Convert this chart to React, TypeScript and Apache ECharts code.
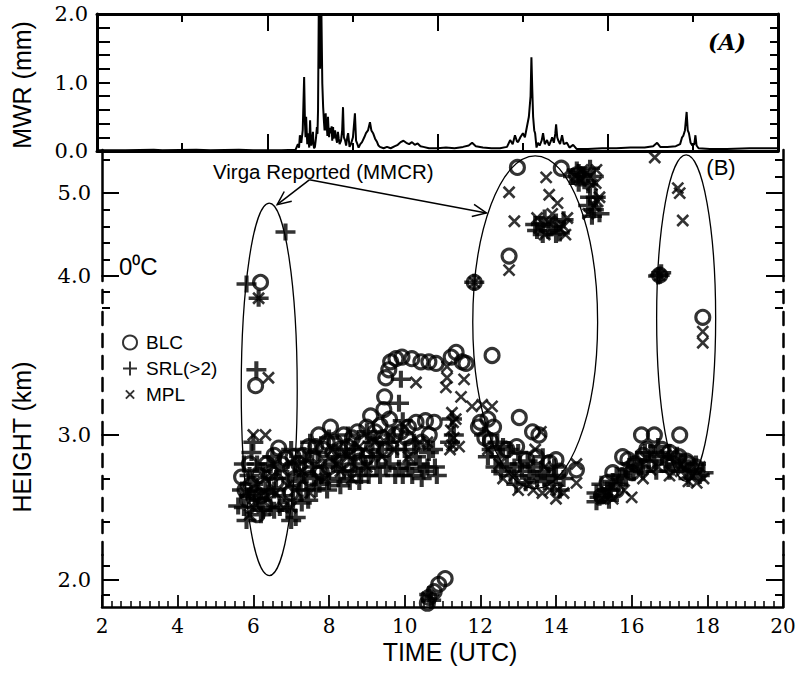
import { useEffect, useRef } from "react";
import * as echarts from "echarts";

// ---------- DATA ----------
// MWR liquid water path (mm) vs time (UTC hours, top panel spans 0-24)
const mwrData: [number, number][] = [
  [0, 0.01], [1, 0.01], [2, 0.02], [2.3, 0.01], [3.5, 0.02], [4.0, 0.01], [5, 0.02], [5.5, 0.01], [6.5, 0.01],
  [7.0, 0.02], [7.08, 0.1], [7.12, 0.05], [7.15, 0.23], [7.2, 0.12], [7.25, 0.3], [7.3, 1.08], [7.33, 0.4],
  [7.35, 0.2], [7.37, 0.5], [7.39, 0.3], [7.41, 0.1], [7.44, 0.26], [7.46, 0.12], [7.48, 0.05], [7.51, 0.45],
  [7.53, 0.2], [7.55, 0.08], [7.58, 0.16], [7.61, 0.28], [7.63, 0.1], [7.65, 0.04], [7.68, 0.06], [7.72, 0.2],
  [7.75, 0.35], [7.77, 0.25], [7.79, 0.6], [7.82, 2.3], [7.86, 1.2], [7.9, 2.3],
  [7.94, 0.99], [7.97, 0.64], [8.0, 0.42], [8.02, 0.3], [8.04, 0.48], [8.06, 0.55], [8.08, 0.3], [8.1, 0.35],
  [8.12, 0.22], [8.14, 0.5], [8.16, 0.32], [8.18, 0.2], [8.2, 0.34], [8.22, 0.3], [8.25, 0.26], [8.27, 0.36],
  [8.29, 0.15], [8.32, 0.35], [8.34, 0.18], [8.36, 0.22], [8.39, 0.3], [8.42, 0.2], [8.46, 0.12], [8.49, 0.28],
  [8.52, 0.18], [8.55, 0.1], [8.6, 0.15], [8.64, 0.3], [8.67, 0.64], [8.7, 0.2], [8.74, 0.16], [8.78, 0.08],
  [8.82, 0.2], [8.85, 0.26], [8.9, 0.06],
  [8.95, 0.1], [9.02, 0.2], [9.09, 0.55], [9.13, 0.15], [9.16, 0.12], [9.22, 0.05], [9.28, 0.1], [9.34, 0.13],
  [9.42, 0.2], [9.48, 0.26], [9.55, 0.3], [9.62, 0.42], [9.67, 0.3], [9.73, 0.26], [9.8, 0.18], [9.87, 0.13],
  [9.92, 0.08], [9.97, 0.06], [10.1, 0.04], [10.22, 0.06], [10.35, 0.04], [10.5, 0.07], [10.6, 0.09], [10.7, 0.13],
  [10.8, 0.15], [10.9, 0.12], [11.0, 0.1], [11.1, 0.13], [11.2, 0.09], [11.3, 0.11], [11.4, 0.07], [11.5, 0.06],
  [11.7, 0.04], [12.0, 0.04], [12.3, 0.05], [12.6, 0.04], [12.9, 0.06], [13.1, 0.08], [13.22, 0.12], [13.35, 0.07],
  [13.6, 0.05], [13.9, 0.04], [14.2, 0.04], [14.45, 0.06], [14.56, 0.16], [14.65, 0.1], [14.73, 0.23], [14.8, 0.14],
  [14.84, 0.13], [14.92, 0.2], [15.01, 0.26], [15.08, 0.2], [15.15, 0.35], [15.22, 0.5], [15.28, 0.8], [15.31, 1.37],
  [15.34, 0.9], [15.37, 0.5], [15.41, 0.3], [15.44, 0.26], [15.49, 0.05], [15.54, 0.12], [15.6, 0.08], [15.67, 0.15],
  [15.72, 0.26], [15.78, 0.1], [15.86, 0.16], [15.93, 0.08], [16.0, 0.15], [16.04, 0.2], [16.1, 0.12], [16.15, 0.25],
  [16.18, 0.39], [16.22, 0.2], [16.25, 0.16], [16.32, 0.1], [16.39, 0.23], [16.45, 0.1], [16.56, 0.12], [16.65, 0.05],
  [16.78, 0.09], [16.9, 0.03], [17.3, 0.03], [17.8, 0.04], [18.3, 0.04], [18.8, 0.05], [19.3, 0.05], [19.6, 0.07],
  [19.74, 0.12], [19.85, 0.06], [20.1, 0.06], [20.4, 0.07], [20.55, 0.1], [20.62, 0.2], [20.66, 0.22], [20.72, 0.3],
  [20.78, 0.57], [20.82, 0.3], [20.86, 0.26], [20.92, 0.12], [20.98, 0.08], [21.05, 0.1], [21.09, 0.23], [21.13, 0.08],
  [21.2, 0.04], [21.6, 0.03], [22.2, 0.03], [23, 0.04], [24, 0.04],
];

// Cloud base heights (km) vs time (UTC hours)
const blcData: [number, number][] = [
  [6.19, 3.96], [6.06, 3.31],
  [5.69, 2.71], [5.78, 2.62], [5.85, 2.55], [5.95, 2.66], [6.05, 2.6], [6.1, 2.45], [6.15, 2.72], [6.25, 2.66],
  [6.3, 2.52], [6.35, 2.8], [6.45, 2.74], [6.5, 2.55], [6.55, 2.86], [6.67, 2.91], [6.75, 2.8], [6.85, 2.84],
  [6.98, 2.77], [7.0, 2.6], [7.1, 2.7], [7.2, 2.8], [7.32, 2.86], [7.46, 2.92], [7.5, 2.7], [7.58, 2.85],
  [7.73, 3.0], [7.8, 2.74], [7.85, 2.9], [7.95, 2.95], [8.0, 2.78], [8.04, 3.05], [8.15, 2.95], [8.28, 2.9],
  [8.39, 3.0], [8.5, 2.92], [8.5, 2.8], [8.62, 2.98], [8.75, 3.02], [8.8, 2.82], [8.88, 2.95], [9.0, 3.05],
  [9.0, 2.85], [9.1, 3.12], [9.22, 3.02], [9.35, 3.06], [9.5, 2.9],
  [5.9, 2.8], [6.2, 2.58], [6.6, 2.68], [7.05, 2.85], [7.4, 2.78], [7.65, 2.92], [8.1, 2.88], [8.35, 2.82],
  [8.7, 2.88], [9.15, 2.92], [9.4, 2.98], [9.75, 3.0], [10.1, 3.05], [10.65, 3.0],
  [9.45, 3.16], [9.47, 3.24], [9.5, 3.36], [9.58, 3.41], [9.63, 3.46], [9.77, 3.48], [9.93, 3.49], [10.19, 3.48],
  [10.43, 3.46], [10.64, 3.46], [10.83, 3.45], [11.23, 3.49], [11.36, 3.52], [11.52, 3.46], [11.62, 3.45],
  [9.6, 3.1], [9.9, 3.02], [10.05, 2.98], [10.2, 2.92], [10.3, 3.08], [10.45, 2.95], [10.55, 3.09], [10.78, 3.08],
  [10.6, 1.84], [10.64, 1.88], [10.78, 1.92], [10.9, 1.97], [11.07, 2.01],
  [11.84, 3.96], [12.31, 3.5], [12.76, 4.24], [12.98, 5.31], [14.14, 5.3], [14.54, 5.22],
  [11.95, 3.05], [12.0, 3.08], [12.12, 2.98], [12.2, 3.1], [12.27, 2.96], [12.35, 3.05], [13.03, 3.11],
  [13.38, 3.02], [13.55, 3.0],
  [12.7, 2.9], [12.96, 2.92], [13.22, 2.83], [13.48, 2.85], [13.83, 2.81], [14.0, 2.83], [14.1, 2.75], [14.54, 2.76],
  [15.35, 2.67], [15.5, 2.74], [15.6, 2.62], [15.76, 2.85], [15.9, 2.83], [16.1, 2.8], [16.3, 2.86],
  [15.2, 2.58], [15.45, 2.6], [16.0, 2.74], [16.4, 2.9],
  [16.26, 3.0], [16.6, 3.0], [17.27, 3.0],
  [16.74, 4.01], [17.88, 3.74],
  [16.8, 2.9], [17.0, 2.88], [17.1, 2.8], [17.25, 2.85], [17.45, 2.82], [17.5, 2.8], [17.7, 2.78],
];

const srlData: [number, number][] = [
  [5.82, 3.95], [6.14, 3.86], [6.85, 4.53], [6.08, 3.41],
  [5.6, 2.51], [5.82, 2.41], [5.7, 2.62], [5.95, 2.88], [5.9, 2.72], [6.0, 2.95], [6.05, 2.56], [6.2, 2.45],
  [6.32, 2.62], [6.45, 2.5], [6.5, 2.85], [6.6, 2.7], [6.8, 2.58], [7.0, 2.41], [7.0, 2.9], [7.12, 2.43],
  [7.2, 2.68], [7.28, 2.53], [7.4, 2.62], [7.5, 2.95], [7.55, 2.78], [7.65, 2.63], [7.8, 2.72], [8.0, 2.68],
  [8.0, 2.98], [8.1, 2.8], [8.25, 2.7], [8.4, 2.75], [8.5, 3.0], [8.55, 2.68], [8.7, 2.8], [8.85, 2.72],
  [8.97, 2.77], [9.0, 3.02], [9.1, 2.85], [9.25, 2.78], [9.4, 2.9], [9.6, 2.8], [9.7, 3.0], [9.85, 2.77],
  [9.85, 3.2], [9.9, 3.35], [9.95, 3.09], [10.0, 2.9], [10.1, 2.77], [10.3, 2.85], [10.5, 2.75], [10.64, 2.88],
  [10.8, 2.78],
  [5.75, 2.5], [5.75, 2.8], [5.88, 2.58], [6.0, 2.66], [6.1, 2.8], [6.15, 2.55], [6.25, 2.48], [6.25, 2.75],
  [6.4, 2.6], [6.4, 2.8], [6.55, 2.48], [6.55, 2.62], [6.7, 2.5], [6.7, 2.78], [6.9, 2.48], [6.9, 2.7],
  [7.05, 2.55], [7.1, 2.8], [7.25, 2.62], [7.35, 2.72], [7.35, 2.85], [7.45, 2.55], [7.6, 2.7], [7.7, 2.88],
  [7.75, 2.66], [7.9, 2.78], [7.95, 2.62], [8.2, 2.85], [8.3, 2.65], [8.45, 2.9], [8.6, 2.75], [8.65, 2.9],
  [8.8, 2.68], [8.9, 2.85], [9.05, 2.72], [9.15, 2.95], [9.3, 2.85], [9.35, 2.72], [9.5, 2.78], [9.55, 2.95],
  [9.75, 2.72], [9.8, 2.9], [9.95, 2.72], [10.05, 2.8], [10.2, 2.72], [10.25, 2.95], [10.4, 2.8], [10.45, 2.7],
  [10.6, 2.78], [10.75, 2.9], [10.85, 2.72],
  [10.65, 1.9], [10.7, 1.86],
  [11.84, 3.96], [11.2, 2.95], [11.25, 3.1], [11.3, 3.0],
  [12.1, 3.0], [12.3, 2.9], [12.4, 2.78], [12.5, 2.85], [12.6, 2.92], [12.7, 2.8], [12.8, 2.72], [12.9, 2.78],
  [13.0, 2.88], [13.1, 2.75], [13.2, 2.67], [13.3, 2.72], [13.5, 2.7], [13.7, 2.68], [13.9, 2.66], [14.0, 2.72],
  [12.2, 2.85], [12.45, 2.95], [12.55, 2.75], [12.75, 2.9], [12.95, 2.66], [13.05, 2.8], [13.25, 2.82],
  [13.4, 2.78], [13.6, 2.75], [13.65, 2.85], [13.8, 2.72], [14.1, 2.62], [14.2, 2.7], [13.95, 2.78],
  [13.5, 4.55], [13.6, 4.62], [13.8, 4.55], [14.0, 4.65], [14.1, 4.52], [14.6, 5.25], [14.75, 5.15], [14.9, 5.3],
  [14.9, 4.95], [15.0, 4.8],
  [13.45, 4.62], [13.7, 4.7], [13.9, 4.6], [14.2, 4.68], [13.65, 4.5], [14.0, 4.5],
  [14.45, 5.2], [14.55, 5.28], [14.7, 5.22], [14.85, 5.1], [15.0, 5.2], [14.6, 5.12],
  [14.85, 4.85], [15.05, 4.95], [15.15, 4.75], [14.95, 4.72],
  [15.07, 2.6], [15.07, 2.54], [15.2, 2.66], [15.25, 2.58], [15.4, 2.55], [15.45, 2.62], [15.6, 2.72],
  [15.65, 2.66], [15.85, 2.7], [16.0, 2.8], [16.05, 2.74], [16.25, 2.78], [16.35, 2.88], [16.45, 2.82],
  [15.15, 2.57], [15.35, 2.62], [15.5, 2.68], [15.75, 2.72], [15.9, 2.76], [16.15, 2.83], [16.3, 2.75], [16.5, 2.88],
  [16.6, 2.82], [16.7, 2.92], [16.74, 4.01], [16.7, 4.0], [16.78, 4.04], [16.8, 2.85], [17.0, 2.88], [17.0, 2.75],
  [17.2, 2.86], [17.4, 2.8], [17.5, 2.7], [17.6, 2.76], [17.8, 2.72],
  [16.9, 2.8], [17.1, 2.78], [17.3, 2.82], [17.45, 2.75], [17.7, 2.8], [17.9, 2.74], [16.65, 2.75],
];

const mplData: [number, number][] = [
  [6.14, 3.86], [6.4, 3.36], [6.0, 3.0], [6.32, 3.0],
  [5.8, 2.6], [6.0, 2.5], [6.3, 2.7], [6.6, 2.6], [6.9, 2.65], [7.0, 2.5], [7.3, 2.75], [7.7, 2.8], [8.1, 2.9],
  [8.3, 2.75], [8.5, 2.85], [8.8, 2.92], [9.2, 2.95], [9.4, 2.85], [9.6, 3.0], [10.0, 3.05], [10.4, 2.95],
  [5.9, 2.45], [6.2, 2.58], [6.5, 2.72], [6.8, 2.5], [7.1, 2.62], [7.5, 2.6], [7.9, 2.7], [8.2, 2.8],
  [8.6, 2.7], [9.0, 2.78], [9.3, 3.0], [9.7, 2.9], [10.1, 2.85], [10.6, 2.95],
  [10.6, 1.88],
  [10.3, 3.33], [11.09, 3.3], [11.12, 3.43], [11.12, 3.36], [11.57, 3.35], [11.49, 3.24], [11.78, 3.18],
  [12.05, 3.19], [12.31, 3.18],
  [11.2, 2.9], [11.22, 3.03], [11.25, 3.14], [11.25, 2.93], [11.28, 3.08], [11.3, 2.98], [11.35, 3.1], [11.44, 2.92],
  [11.84, 3.96], [12.76, 5.01], [12.9, 4.66], [12.76, 4.07], [13.74, 5.19], [13.82, 4.98], [14.04, 4.88],
  [14.3, 4.7], [15.07, 5.28], [13.5, 4.7], [13.7, 4.5], [13.9, 4.75], [14.2, 4.6], [14.5, 5.2], [14.7, 5.28],
  [14.95, 5.1], [15.1, 4.9], [14.85, 4.75],
  [13.55, 4.58], [13.8, 4.65], [14.1, 4.58], [14.25, 4.5], [14.65, 5.15], [14.8, 5.25], [15.05, 5.12],
  [15.0, 4.85], [15.15, 4.95],
  [12.5, 2.8], [12.9, 2.72], [13.3, 2.66], [13.4, 2.62], [13.6, 3.02], [13.64, 2.6], [13.85, 2.62], [14.05, 2.62],
  [12.2, 2.9], [12.6, 2.7], [13.0, 2.62], [13.45, 2.9], [13.7, 2.78], [14.2, 2.6], [14.0, 2.56],
  [14.54, 2.8], [14.54, 2.67],
  [15.2, 2.56], [15.5, 2.56], [15.8, 2.62], [16.0, 2.57], [16.3, 2.7], [16.5, 2.76],
  [16.61, 5.43], [17.22, 5.06], [17.27, 5.0], [17.35, 4.67], [16.74, 4.01], [17.88, 3.65], [17.88, 3.58],
  [16.7, 2.78], [17.0, 2.72], [17.3, 2.75], [17.5, 2.68], [17.72, 2.67], [17.9, 2.7],
  [16.9, 2.86], [17.6, 2.72], [17.8, 2.78],
];

// Height axis segments (the printed axis is not uniform, so each piece is its own linear axis)
const segMin = [4.0, 3.0, 2.172, 1.814];
const segMax = [5.52, 4.0, 3.0, 2.172];
const segMajorLeft = [[4, 5], [3], [], [2]];
const segMinorLeft = [[4.2, 4.4, 4.6, 4.8, 5.4], [3.8, 3.9], [2.4, 2.7], [1.9, 2.1]];
const segMinorRight = [[4.2, 4.4, 4.6, 4.8, 5.2, 5.4], [3.8, 3.9], [2.4, 2.7], [1.9, 2.1]];
const segLabels = [[4, 5], [3], [], [2]];

// Annotations (data coordinates: hours, km)
const virgaEllipses = [
  { x0: 5.68, x1: 7.16, yTop: 4.88, yBottom: 2.03 },
  { x0: 11.8, x1: 15.1, yTop: 5.45, yBottom: 2.63 },
  { x0: 16.66, x1: 18.22, yTop: 5.46, yBottom: 2.68 },
];
const arrowStart: [number, number] = [7.48, 5.16];
const arrowEnds: [number, number][] = [[6.63, 4.86], [12.16, 4.76]];

// ---------- LAYOUT / STYLE ----------
const SANS = "'Liberation Sans', Arial, Helvetica, sans-serif";
const SERIF = "'DejaVu Serif', 'Liberation Serif', serif";
const segTop = [150, 276, 435, 555];
const segHeight = [126, 159, 120, 52];
const segDashed = [false, true, true, false];
const PLUS = "path://M10,0L10,20M0,10L20,10";
const CROSS = "path://M0,0L20,20M20,0L0,20";
const CROSS_ICON = "path://M-7,-7M0,0L20,20M20,0L0,20M27,27";

function segIndex(km: number): number {
  for (let i = 0; i < segMin.length; i++) {
    if (km >= segMin[i] && km <= segMax[i]) return i;
  }
  return km > segMax[0] ? 0 : segMin.length - 1;
}

function buildOption(): any {
  const grids: any[] = [{ left: 97, top: 14, width: 681, height: 137, outerBoundsMode: "none" }];
  segTop.forEach((t, i) => grids.push({ left: 102, top: t, width: 681, height: segHeight[i], outerBoundsMode: "none" }));

  const black = "#000";
  const topX = (pos: string) => ({
    type: "value", gridIndex: 0, position: pos, min: 0, max: 24, interval: 6,
    axisLine: { show: true, onZero: false, lineStyle: { color: black, width: 3 } },
    axisTick: { show: true, inside: true, length: 17, lineStyle: { color: black, width: 2 } },
    minorTick: { show: true, splitNumber: 2, length: 8, lineStyle: { color: black, width: 2 } },
    axisLabel: { show: false }, splitLine: { show: false }, minorSplitLine: { show: false },
  });
  const xAxes: any[] = [topX("bottom"), topX("top")];
  segTop.forEach((_, i) => {
    const last = i === segTop.length - 1;
    xAxes.push({
      type: "value", gridIndex: i + 1, min: 2, max: 20, interval: 2, show: last, position: "bottom",
      axisLine: { show: true, onZero: false, lineStyle: { color: black, width: 2.5 } },
      axisTick: { show: true, inside: true, length: 12, lineStyle: { color: black, width: 1.8 } },
      minorTick: { show: true, splitNumber: 8, length: 6, lineStyle: { color: black, width: 1.5 } },
      axisLabel: { show: true, fontFamily: SERIF, fontSize: 20, color: black, margin: 9 },
      splitLine: { show: false }, minorSplitLine: { show: false },
    });
  });

  const topY = (pos: string, len: number, labels: boolean) => ({
    type: "value", gridIndex: 0, position: pos, min: 0, max: 2, interval: 1,
    axisLine: { show: true, onZero: false, lineStyle: { color: black, width: 3 } },
    axisTick: { show: true, inside: true, length: len, lineStyle: { color: black, width: 2 } },
    minorTick: { show: true, splitNumber: 5, length: len, lineStyle: { color: black, width: 2 } },
    axisLabel: { show: labels, formatter: (v: number) => v.toFixed(1), fontFamily: SERIF, fontSize: 21, color: black, margin: 9 },
    splitLine: { show: false }, minorSplitLine: { show: false },
  });
  const yAxes: any[] = [topY("left", 13, true), topY("right", 8, false)];
  segTop.forEach((_, i) => {
    const base = { type: "value", gridIndex: i + 1, min: segMin[i], max: segMax[i], splitLine: { show: false }, minorTick: { show: false } };
    const lineStyle = { color: black, width: 2.5, type: segDashed[i] ? [13, 9] : "solid" };
    const major = (pos: string, labels: boolean) => ({
      ...base, position: pos,
      axisLine: { show: true, onZero: false, lineStyle },
      axisTick: { show: segMajorLeft[i].length > 0, inside: true, length: 17, customValues: segMajorLeft[i], lineStyle: { color: black, width: 2 } },
      axisLabel: {
        show: labels && segLabels[i].length > 0, customValues: segLabels[i], formatter: (v: number) => v.toFixed(1),
        fontFamily: SERIF, fontSize: 21, color: black, margin: 11,
      },
    });
    const minor = (pos: string, vals: number[]) => ({
      ...base, position: pos,
      axisLine: { show: false },
      axisTick: { show: true, inside: true, length: 8, customValues: vals, lineStyle: { color: black, width: 2 } },
      axisLabel: { show: false },
    });
    yAxes.push(major("left", true), minor("left", segMinorLeft[i]), major("right", false), minor("right", segMinorRight[i]));
  });

  const seriesDefs = [
    { name: "BLC", data: blcData, symbol: "circle", size: 14, style: { color: "rgba(0,0,0,0)", borderColor: black, borderWidth: 3.1 } },
    { name: "SRL(>2)", data: srlData, symbol: PLUS, size: [20, 17], style: { color: black, borderColor: black, borderWidth: 3.8 } },
    { name: "MPL", data: mplData, symbol: CROSS, size: 11, style: { color: black, borderColor: black, borderWidth: 2.6 } },
  ];
  const series: any[] = [{
    type: "line", name: "MWR", xAxisIndex: 0, yAxisIndex: 0, data: mwrData, symbol: "none",
    lineStyle: { color: black, width: 2 }, clip: true, silent: true, z: 3,
  }];
  seriesDefs.forEach((def) => {
    segTop.forEach((_, i) => {
      series.push({
        type: "scatter", name: def.name, xAxisIndex: 2 + i, yAxisIndex: 2 + 4 * i,
        data: def.data.filter((p) => segIndex(p[1]) === i),
        symbol: def.symbol, symbolSize: def.size, itemStyle: def.style, clip: false, silent: true, z: 2,
      });
    });
  });

  return {
    animation: false,
    backgroundColor: "#fff",
    grid: grids,
    xAxis: xAxes,
    yAxis: yAxes,
    legend: {
      orient: "vertical", left: 117, top: 328, itemGap: 7, itemWidth: 22, itemHeight: 14,
      data: ["BLC", "SRL(>2)", { name: "MPL", icon: CROSS_ICON }], selectedMode: false,
      textStyle: { fontFamily: SANS, fontSize: 19, color: black },
    },
    series,
  };
}

function buildGraphics(chart: any): any[] {
  const toPx = (h: number, km: number): number[] =>
    chart.convertToPixel({ gridIndex: segIndex(km) + 1 }, [h, km]) as number[];
  const els: any[] = [];
  virgaEllipses.forEach((e) => {
    const a = toPx(e.x0, e.yTop);
    const b = toPx(e.x1, e.yTop);
    const c = toPx(e.x0, e.yBottom);
    els.push({
      type: "ellipse", z: 50, silent: true,
      shape: { cx: (a[0] + b[0]) / 2, cy: (a[1] + c[1]) / 2, rx: (b[0] - a[0]) / 2, ry: (c[1] - a[1]) / 2 },
      style: { fill: "none", stroke: "#000", lineWidth: 1.3 },
    });
  });
  const s = toPx(arrowStart[0], arrowStart[1]);
  arrowEnds.forEach((end) => {
    const e = toPx(end[0], end[1]);
    const ang = Math.atan2(e[1] - s[1], e[0] - s[0]);
    const L = 15, A = 0.42;
    els.push({ type: "line", z: 50, silent: true, shape: { x1: s[0], y1: s[1], x2: e[0], y2: e[1] }, style: { stroke: "#000", lineWidth: 1.5 } });
    els.push({
      type: "polyline", z: 50, silent: true,
      shape: { points: [
        [e[0] - L * Math.cos(ang - A), e[1] - L * Math.sin(ang - A)],
        [e[0], e[1]],
        [e[0] - L * Math.cos(ang + A), e[1] - L * Math.sin(ang + A)],
      ] },
      style: { fill: "none", stroke: "#000", lineWidth: 1.5 },
    });
  });
  const txt = (x: number, y: number, text: string, o: any = {}, rotation = 0) => ({
    type: "text", x, y, rotation, z: 60, silent: true,
    style: {
      text, fill: "#000", fontFamily: o.fontFamily || SANS, fontSize: o.fontSize || 20,
      fontStyle: o.fontStyle || "normal", fontWeight: o.fontWeight || "normal",
      align: o.align || "center", textAlign: o.align || "center",
      verticalAlign: "middle", textVerticalAlign: "middle",
    },
  });
  els.push(txt(22, 85, "MWR (mm)", { fontSize: 25 }, Math.PI / 2));
  els.push(txt(22, 437, "HEIGHT (km)", { fontSize: 25 }, Math.PI / 2));
  els.push(txt(450, 652, "TIME (UTC)", { fontSize: 25 }));
  els.push(txt(727, 42, "(A)", { fontFamily: SERIF, fontSize: 22, fontStyle: "italic", fontWeight: "bold" }));
  els.push(txt(721, 167, "(B)", { fontSize: 22 }));
  els.push(txt(119, 266, "0⁰C", { fontSize: 24, align: "left" }));
  els.push(txt(213, 171, "Virga Reported (MMCR)", { fontSize: 20.5, align: "left" }));
  return els;
}

export default function App() {
  const ref = useRef<HTMLDivElement>(null);
  useEffect(() => {
    const el = ref.current;
    if (!el) return;
    const chart = echarts.init(el, undefined, { renderer: "svg" });
    chart.setOption(buildOption());
    chart.setOption({ graphic: buildGraphics(chart) });
    return () => chart.dispose();
  }, []);
  return (
    <div
      ref={ref}
      style={{ position: "fixed", left: 0, top: 0, width: 805, height: 681, background: "#fff" }}
    />
  );
}
